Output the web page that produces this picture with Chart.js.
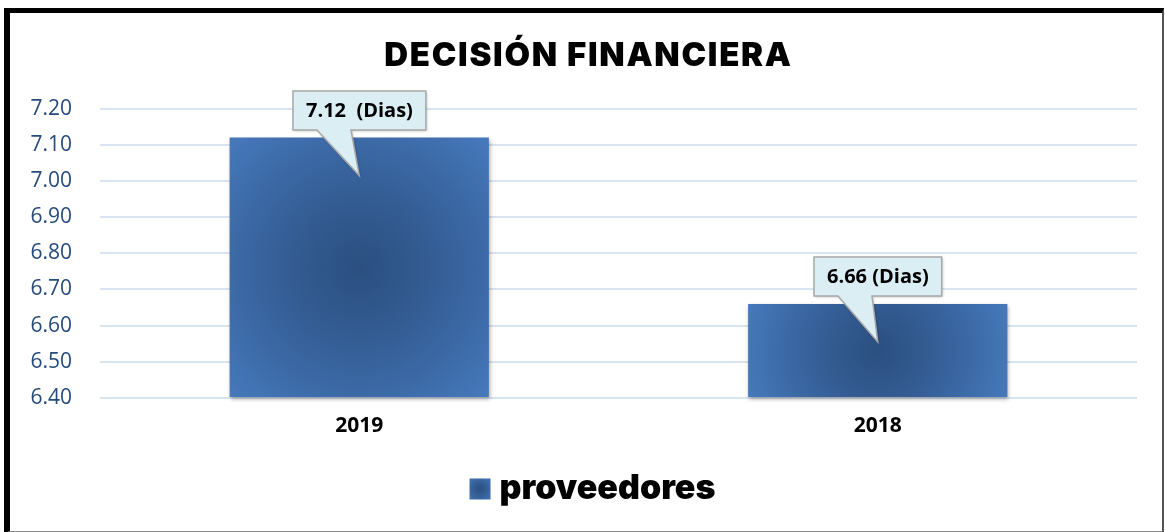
<!DOCTYPE html>
<html><head><meta charset="utf-8">
<script src="https://cdn.jsdelivr.net/npm/chart.js@4.4.1/dist/chart.umd.min.js"></script>
<style>
html,body{margin:0;padding:0;background:#fff;}
#wrap{position:relative;width:1165px;height:532px;overflow:hidden;background:#fff;}
#frame{position:absolute;left:4px;top:8px;width:1152px;height:518px;border-left:6px solid #000;border-top:5px solid #000;border-right:2px solid #555;border-bottom:2px solid #8a8a8a;}
canvas{position:absolute;left:0;top:0;}
</style></head><body>
<div id="wrap"><div id="frame"></div><canvas id="c" width="1165" height="532"></canvas></div>
<script>
const chartTitle = 'DECISIÓN FINANCIERA';
const seriesName = 'proveedores';
const categories = ['2019', '2018'];
const values = [7.12, 6.66];
const calloutLabels = ['7.12  (Dias)', '6.66 (Dias)'];
const yTickLabels = ['6.40', '6.50', '6.60', '6.70', '6.80', '6.90', '7.00', '7.10', '7.20'];
const yMin = 6.4, yMax = 7.2, yStep = 0.1;

const HEAVY = "'Inter', 'Lato', 'DejaVu Sans', sans-serif";
const BODY = "'Open Sans', 'Noto Sans', sans-serif";

function barGradient(c, cx, cy, r) {
  const g = c.createRadialGradient(cx, cy, 0, cx, cy, r);
  g.addColorStop(0, '#2b4f80');
  g.addColorStop(0.45, '#355f97');
  g.addColorStop(1, '#4679bc');
  return g;
}

const barFill = (ctx) => {
  const chart = ctx.chart;
  const xs = chart.scales.x, ys = chart.scales.y;
  if (ctx.type !== 'data' || !xs || !ys) return '#3e6eab';
  const cx = xs.getPixelForValue(ctx.dataIndex);
  const top = ys.getPixelForValue(ctx.raw);
  const base = ys.getPixelForValue(yMin);
  const w = xs.width / categories.length * 0.5;
  const cy = (top + base) / 2;
  const r = Math.hypot(w / 2, (base - top) / 2);
  if (![cx, cy, r].every(Number.isFinite) || r <= 0) return '#3e6eab';
  return barGradient(chart.ctx, cx, cy, r);
};

function wrapBox(chart, box, dx, spacing) {
  if (!box || box._wrapped) return;
  const orig = box.draw.bind(box);
  box.draw = function (area) {
    const c = chart.ctx;
    c.save();
    c.translate(dx, 0);
    if (spacing) c.letterSpacing = spacing;
    orig(area);
    c.restore();
  };
  box._wrapped = true;
}

const TITLE_DX = 6, LEGEND_DX = 6;

const decorPlugin = {
  id: 'decor',
  beforeDraw(chart) {
    wrapBox(chart, chart.titleBlock, TITLE_DX, '1.7px');
    wrapBox(chart, chart.legend, LEGEND_DX, null);
  },
  beforeDatasetsDraw(chart) {
    const c = chart.ctx;
    c.save();
    c.shadowColor = 'rgba(0,0,0,0.35)';
    c.shadowBlur = 4;
    c.shadowOffsetX = 1;
    c.shadowOffsetY = 2;
  },
  afterDatasetsDraw(chart) {
    const c = chart.ctx;
    c.restore();
    const meta = chart.getDatasetMeta(0);
    meta.data.forEach((el, i) => {
      const cx = el.x, top = el.y;
      c.save();
      c.font = "bold 20px " + BODY;
      const tw = c.measureText(calloutLabels[i]).width;
      const bw = tw + 26, bh = 39;
      const L = Math.round(cx - bw / 2), B = Math.round(top - 8), T = B - bh, R = L + bw;
      c.beginPath();
      c.moveTo(L, T);
      c.lineTo(R, T);
      c.lineTo(R, B);
      c.lineTo(L + 58, B);
      c.lineTo(cx, top + 38);
      c.lineTo(L + 24, B);
      c.lineTo(L, B);
      c.closePath();
      c.shadowColor = 'rgba(0,0,0,0.25)';
      c.shadowBlur = 3;
      c.shadowOffsetX = 1;
      c.shadowOffsetY = 1;
      c.fillStyle = '#dbeef4';
      c.fill();
      c.shadowColor = 'transparent';
      c.lineWidth = 1.5;
      c.strokeStyle = '#a8a8a8';
      c.stroke();
      c.fillStyle = '#000';
      c.textAlign = 'center';
      c.textBaseline = 'middle';
      c.fillText(calloutLabels[i], L + bw / 2, T + bh / 2 + 1);
      c.restore();
    });
  },
  afterDraw(chart) {
    const lg = chart.legend;
    if (!lg || !lg.legendHitBoxes || !lg.legendHitBoxes.length) return;
    const hb = lg.legendHitBoxes[0];
    const fs = lg.options.labels.font.size;
    const bw = lg.options.labels.boxWidth;
    const textX = hb.left + LEGEND_DX + bw + fs / 2;
    const size = 21;
    const x = textX - 9 - size;
    const cy = hb.top + hb.height / 2;
    const y = cy - size / 2;
    const c = chart.ctx;
    c.save();
    c.fillStyle = barGradient(c, x + size / 2, y + size / 2, size * 0.75);
    c.fillRect(x, y, size, size);
    c.restore();
  }
};

new Chart(document.getElementById('c'), {
  type: 'bar',
  data: {
    labels: categories,
    datasets: [{
      label: seriesName,
      data: values,
      base: yMin,
      backgroundColor: barFill,
      borderWidth: 0,
      barPercentage: 1,
      categoryPercentage: 0.5,
      clip: false
    }]
  },
  options: {
    responsive: false,
    animation: false,
    events: [],
    layout: { padding: { left: 28, right: 28, top: 14, bottom: 16 } },
    plugins: {
      title: {
        display: true,
        text: chartTitle,
        color: '#000',
        font: { family: HEAVY, weight: '900', size: 33, lineHeight: 1.2 },
        padding: { top: 22, bottom: 33 }
      },
      legend: {
        display: true,
        position: 'bottom',
        labels: {
          color: '#000',
          font: { family: HEAVY, weight: '900', size: 34 },
          boxWidth: 21,
          boxHeight: 21,
          padding: 10,
          generateLabels: (chart) => [{
            text: seriesName,
            fillStyle: 'rgba(0,0,0,0)',
            strokeStyle: 'rgba(0,0,0,0)',
            lineWidth: 0,
            fontColor: '#000',
            datasetIndex: 0,
            hidden: false
          }]
        }
      },
      tooltip: { enabled: false }
    },
    scales: {
      x: {
        grid: { display: false },
        border: { display: false },
        ticks: { color: '#000', font: { family: BODY, weight: 'bold', size: 21 }, padding: 7 },
        afterFit: (s) => { s.height = 64; }
      },
      y: {
        min: yMin,
        max: yMax,
        grid: { color: '#d9e4f2', lineWidth: 2, drawTicks: false },
        border: { display: false },
        ticks: {
          stepSize: yStep,
          padding: 28,
          color: '#254b7c',
          font: { family: BODY, size: 21 },
          callback: (v, i) => yTickLabels[i]
        },
        afterFit: (s) => { s.width = 72; }
      }
    }
  },
  plugins: [decorPlugin]
});
</script>
</body></html>
